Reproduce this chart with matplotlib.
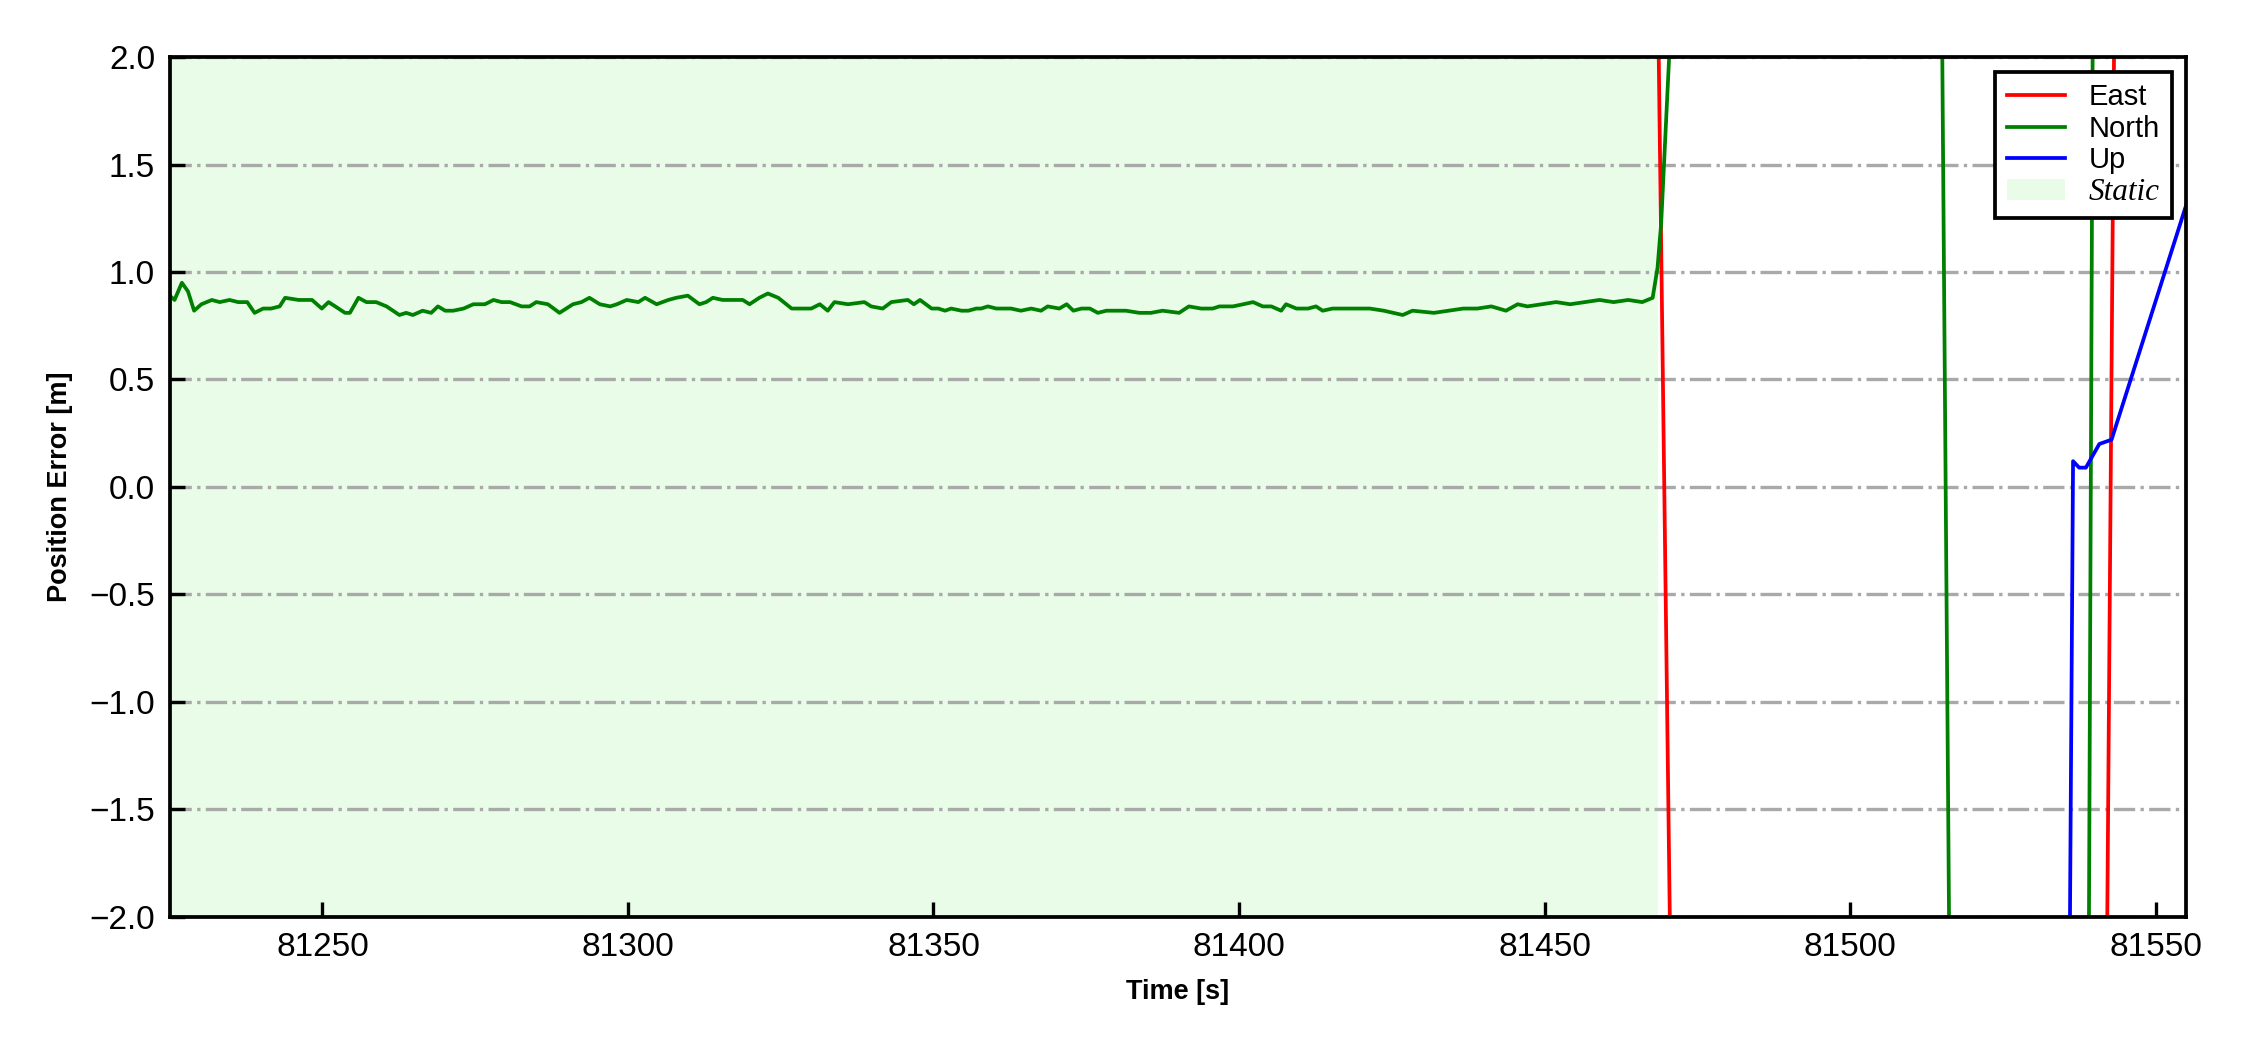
import matplotlib.pyplot as plt

plt.rcParams['font.family'] = ['Liberation Sans', 'DejaVu Sans']

# Error Norte durante el periodo estatico (tiempo [s], error [m])
t_north = [81225.0, 81225.8, 81227.0, 81228.0, 81229.0, 81230.2, 81231.9, 81233.2, 81234.8, 81236.2,
           81237.7, 81238.9, 81240.3, 81241.6, 81243.0, 81243.9, 81246.1, 81248.3, 81249.9, 81251.0,
           81252.1, 81253.7, 81254.5, 81255.9, 81257.2, 81258.8, 81260.5, 81262.6, 81263.7, 81264.8,
           81266.4, 81267.8, 81268.9, 81270.1, 81271.4, 81273.1, 81274.7, 81276.6, 81278.0, 81279.3,
           81280.7, 81282.6, 81283.9, 81285.0, 81286.9, 81288.8, 81291.0, 81292.4, 81293.7, 81295.4,
           81297.1, 81298.2, 81299.8, 81301.7, 81302.8, 81304.7, 81306.6, 81307.9, 81309.8, 81311.7,
           81312.8, 81313.9, 81315.5, 81317.7, 81318.8, 81319.9, 81321.5, 81322.9, 81324.6, 81326.8,
           81328.9, 81330.0, 81331.4, 81332.7, 81333.8, 81336.0, 81338.7, 81339.8, 81341.7, 81343.1,
           81345.8, 81346.8, 81347.8, 81349.7, 81350.8, 81351.9, 81352.9, 81354.6, 81355.7, 81357.0,
           81357.8, 81358.9, 81360.3, 81362.7, 81364.3, 81366.0, 81367.6, 81368.7, 81370.6, 81371.8,
           81372.9, 81374.2, 81375.6, 81376.9, 81378.3, 81381.5, 81383.7, 81385.6, 81387.5, 81390.2,
           81391.8, 81393.8, 81395.7, 81396.8, 81399.0, 81400.7, 81402.3, 81403.9, 81405.3, 81406.9,
           81407.7, 81409.4, 81411.3, 81412.6, 81413.7, 81415.3, 81417.5, 81421.4, 81423.7, 81426.8,
           81428.4, 81431.9, 81434.3, 81436.7, 81439.0, 81441.3, 81443.7, 81445.6, 81447.2, 81449.5,
           81451.9, 81454.2, 81456.6, 81459.0, 81461.3, 81463.7, 81466.0, 81467.7]
north = [0.89, 0.87, 0.95, 0.91, 0.82, 0.85, 0.87, 0.86, 0.87, 0.86,
         0.86, 0.81, 0.83, 0.83, 0.84, 0.88, 0.87, 0.87, 0.83, 0.86,
         0.84, 0.81, 0.81, 0.88, 0.86, 0.86, 0.84, 0.80, 0.81, 0.80,
         0.82, 0.81, 0.84, 0.82, 0.82, 0.83, 0.85, 0.85, 0.87, 0.86,
         0.86, 0.84, 0.84, 0.86, 0.85, 0.81, 0.85, 0.86, 0.88, 0.85,
         0.84, 0.85, 0.87, 0.86, 0.88, 0.85, 0.87, 0.88, 0.89, 0.85,
         0.86, 0.88, 0.87, 0.87, 0.87, 0.85, 0.88, 0.90, 0.88, 0.83,
         0.83, 0.83, 0.85, 0.82, 0.86, 0.85, 0.86, 0.84, 0.83, 0.86,
         0.87, 0.85, 0.87, 0.83, 0.83, 0.82, 0.83, 0.82, 0.82, 0.83,
         0.83, 0.84, 0.83, 0.83, 0.82, 0.83, 0.82, 0.84, 0.83, 0.85,
         0.82, 0.83, 0.83, 0.81, 0.82, 0.82, 0.81, 0.81, 0.82, 0.81,
         0.84, 0.83, 0.83, 0.84, 0.84, 0.85, 0.86, 0.84, 0.84, 0.82,
         0.85, 0.83, 0.83, 0.84, 0.82, 0.83, 0.83, 0.83, 0.82, 0.80,
         0.82, 0.81, 0.82, 0.83, 0.83, 0.84, 0.82, 0.85, 0.84, 0.85,
         0.86, 0.85, 0.86, 0.87, 0.86, 0.87, 0.86, 0.88]

# Error Norte despues del periodo estatico
t_north_fin = [81468.5, 81469.1, 81472.0, 81514.0, 81517.0, 81538.0, 81541.0, 81555.0]
north_fin = [1.02, 1.23, 2.95, 6.0, -4.9, -9.4, 10.7, 14.0]

# Error Este
t_east = [81225.0, 81467.7, 81472.0, 81541.0, 81544.0, 81555.0]
east = [4.2, 4.2, -5.3, -6.0, 4.9, 8.0]

# Error Up
t_up = [81225.0, 81535.0, 81536.5, 81537.5, 81538.6, 81540.8, 81542.8, 81555.0]
up = [-6.2, -6.2, 0.12, 0.09, 0.09, 0.20, 0.22, 1.31]

# Intervalo estatico
static_ini, static_fin = 81225.0, 81468.5

fig, ax = plt.subplots(figsize=(7.5, 3.5), dpi=300)
fig.subplots_adjust(left=0.0754, right=0.9716, bottom=0.1267, top=0.9457)

ax.plot(t_east, east, color='red', linewidth=0.9, label='East')
ax.plot(t_north + t_north_fin, north + north_fin, color='green', linewidth=0.9, label='North')
ax.plot(t_up, up, color='blue', linewidth=0.9, label='Up')
ax.axvspan(static_ini, static_fin, color='#e8fce8', linewidth=0, label='Static')

ax.set_xlim(81225, 81555)
ax.set_ylim(-2.0, 2.0)
ax.set_xticks([81250, 81300, 81350, 81400, 81450, 81500, 81550])
ax.set_yticks([-2.0, -1.5, -1.0, -0.5, 0.0, 0.5, 1.0, 1.5, 2.0])
ax.yaxis.grid(True, linestyle='-.', color='darkgray', linewidth=0.8)

ax.tick_params(direction='in', length=3.5, width=0.8, labelsize=8, top=False, right=False)
for sp in ax.spines.values():
    sp.set_linewidth(0.9)

ax.set_xlabel('Time [s]', fontsize=6.5, fontweight='bold')
ax.set_ylabel('Position Error [m]', fontsize=6.5, fontweight='bold')

leg = ax.legend(loc='upper right', fontsize=7, fancybox=False, framealpha=1,
                edgecolor='black', labelspacing=0.12, borderpad=0.4)
leg.get_frame().set_linewidth(0.9)
leg.get_texts()[3].set_family(['Liberation Serif'])
leg.get_texts()[3].set_style('italic')
leg.get_texts()[3].set_fontsize(7.5)

fig.savefig('out.png', dpi=300)
